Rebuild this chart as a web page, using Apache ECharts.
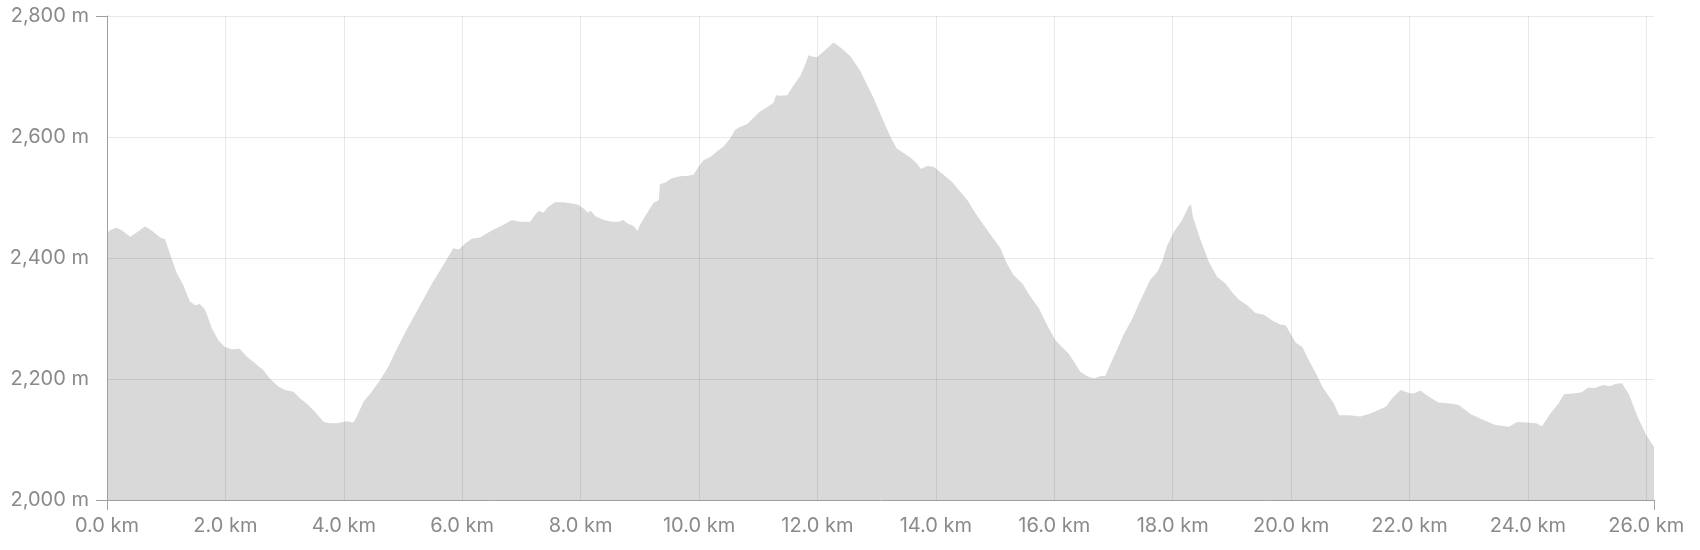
<!DOCTYPE html>
<html>
<head>
<meta charset="utf-8">
<script src="https://cdn.jsdelivr.net/npm/echarts@6/dist/echarts.min.js"></script>
<style>
html,body{margin:0;padding:0;background:#fff;}
#chart{width:1700px;height:550px;}
</style>
</head>
<body>
<div id="chart"></div>
<script>
// Distance along the route (km)
const distanceKm = [
0.00,0.05,0.16,0.25,0.39,0.50,0.64,0.73,0.81,0.90,0.98,1.06,1.18,1.29,1.40,1.49,1.57,1.66,1.77,1.88,
1.99,2.11,2.24,2.36,2.50,2.64,2.75,2.90,3.01,3.15,3.26,3.40,3.51,3.66,3.77,3.88,4.05,4.16,4.22,4.33,
4.47,4.61,4.75,4.90,5.06,5.20,5.34,5.49,5.63,5.77,5.85,5.94,6.05,6.16,6.30,6.42,6.53,6.64,6.84,6.98,
7.15,7.23,7.29,7.37,7.46,7.57,7.71,7.85,7.96,8.05,8.12,8.17,8.25,8.39,8.53,8.64,8.72,8.78,8.89,8.96,
9.01,9.12,9.23,9.32,9.34,9.43,9.54,9.68,9.82,9.91,9.99,10.08,10.19,10.30,10.41,10.53,10.61,10.70,10.81,10.92,
11.03,11.15,11.26,11.30,11.37,11.49,11.60,11.71,11.79,11.85,11.91,11.99,12.10,12.27,12.39,12.56,12.72,12.84,12.95,13.06,
13.17,13.26,13.34,13.46,13.57,13.68,13.75,13.85,13.96,14.10,14.27,14.41,14.53,14.67,14.81,14.95,15.09,15.20,15.31,15.46,
15.60,15.74,15.88,16.02,16.13,16.24,16.33,16.44,16.55,16.67,16.78,16.86,16.92,17.03,17.17,17.32,17.46,17.62,17.74,17.82,
17.91,18.02,18.16,18.27,18.31,18.34,18.47,18.61,18.75,18.89,19.00,19.12,19.26,19.40,19.54,19.71,19.82,19.91,19.99,20.08,
20.19,20.30,20.42,20.53,20.64,20.72,20.81,20.98,21.17,21.34,21.60,21.71,21.85,21.99,22.07,22.18,22.32,22.49,22.66,22.83,
23.03,23.26,23.45,23.68,23.82,23.99,24.14,24.24,24.38,24.52,24.61,24.77,24.91,25.02,25.13,25.27,25.38,25.49,25.59,25.71,
25.85,26.00,26.13
];
// Elevation (m)
const elevationM = [
2441,2446,2450,2446,2435,2442,2452,2447,2441,2434,2431,2408,2375,2355,2328,2322,2324,2314,2284,2264,
2253,2249,2250,2237,2226,2215,2201,2187,2182,2179,2168,2157,2146,2129,2127,2127,2130,2128,2138,2162,
2179,2198,2220,2251,2281,2306,2331,2358,2380,2403,2416,2414,2424,2432,2434,2441,2447,2452,2463,2460,
2460,2471,2478,2475,2485,2492,2492,2490,2488,2482,2475,2478,2469,2463,2460,2460,2463,2458,2453,2445,
2456,2474,2491,2496,2522,2525,2532,2535,2536,2538,2551,2562,2567,2576,2584,2598,2612,2617,2621,2632,
2642,2649,2657,2669,2668,2669,2686,2701,2719,2735,2733,2732,2741,2756,2748,2733,2710,2686,2664,2639,
2614,2595,2581,2573,2566,2556,2547,2552,2551,2540,2526,2510,2496,2474,2454,2435,2416,2391,2372,2358,
2336,2317,2289,2264,2253,2242,2229,2212,2205,2201,2205,2205,2218,2242,2273,2300,2331,2364,2377,2394,
2421,2443,2463,2485,2489,2468,2430,2394,2369,2358,2344,2331,2322,2309,2306,2295,2290,2289,2275,2260,
2253,2231,2209,2187,2171,2160,2140,2140,2138,2143,2154,2168,2182,2177,2176,2181,2171,2161,2160,2157,
2142,2132,2124,2121,2129,2128,2127,2122,2143,2160,2175,2176,2178,2186,2185,2190,2188,2192,2193,2174,
2138,2107,2088
];
// Axis ticks
const xTickStepKm = 2;
const yTicksM = [2000, 2200, 2400, 2600, 2800];

const xMax = distanceKm[distanceKm.length - 1];
const yMin = yTicksM[0], yMax = yTicksM[yTicksM.length - 1];
const seriesData = distanceKm.map((d, i) => [d, elevationM[i]]);

const labelColor = '#8a8a8a';
const axisColor = '#a0a0a0';
const gridColor = 'rgba(0,0,0,0.085)';
const font = 'Inter, "Noto Sans", sans-serif';

const chart = echarts.init(document.getElementById('chart'), null, {renderer: 'canvas'});
chart.setOption({
  animation: false,
  grid: {left: 107, right: 46, top: 16, bottom: 50, containLabel: false},
  xAxis: [{
    type: 'value', min: 0, max: xMax, interval: xTickStepKm, z: 5,
    axisLine: {show: true, lineStyle: {color: axisColor, width: 1}},
    axisTick: {show: false},
    splitLine: {show: true, showMaxLine: false, lineStyle: {color: gridColor, width: 1}},
    axisLabel: {
      show: true, margin: 16, color: labelColor, fontSize: 20, fontFamily: font,
      showMaxLabel: false,
      formatter: v => (Math.abs(v / xTickStepKm - Math.round(v / xTickStepKm)) < 1e-6) ? v.toFixed(1) + ' km' : ''
    }
  }, {
    type: 'value', min: 0, max: xMax, interval: xMax, position: 'bottom', z: 5,
    axisLine: {show: false}, axisLabel: {show: false}, splitLine: {show: false},
    axisTick: {show: true, length: 10, lineStyle: {color: axisColor, width: 1}}
  }],
  yAxis: [{
    type: 'value', min: yMin, max: yMax, interval: yTicksM[1] - yTicksM[0], z: 5,
    axisLine: {show: true, lineStyle: {color: axisColor, width: 1}},
    axisTick: {show: false},
    splitLine: {show: true, lineStyle: {color: gridColor, width: 1}},
    axisLabel: {
      show: true, margin: 18, color: labelColor, fontSize: 20, fontFamily: font,
      formatter: v => v.toLocaleString('en-US') + ' m'
    }
  }, {
    type: 'value', min: yMin, max: yMax, interval: yMax - yMin, position: 'left', z: 5,
    axisLine: {show: false}, axisLabel: {show: false}, splitLine: {show: false},
    axisTick: {show: true, length: 11, lineStyle: {color: axisColor, width: 1}}
  }],
  series: [{
    type: 'line', xAxisIndex: 0, yAxisIndex: 0, z: 1,
    data: seriesData, showSymbol: false, symbol: 'none', smooth: false,
    lineStyle: {width: 0, color: '#d9d9d9'},
    areaStyle: {color: '#d9d9d9', opacity: 1, origin: 'start'},
    silent: true
  }]
});
</script>
</body>
</html>
